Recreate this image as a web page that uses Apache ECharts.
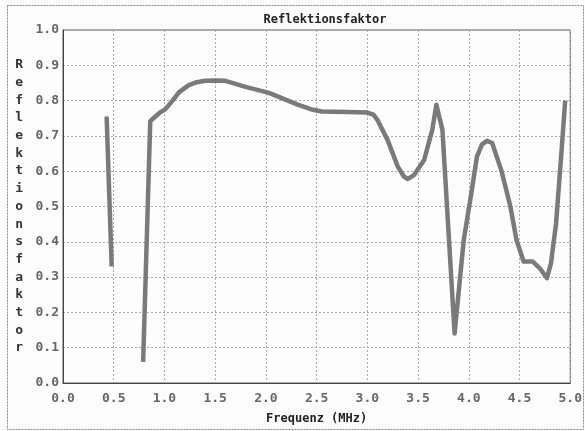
<!DOCTYPE html>
<html>
<head>
<meta charset="utf-8">
<script src="https://cdn.jsdelivr.net/npm/echarts@6/dist/echarts.min.js"></script>
<style>html,body{margin:0;padding:0;background:#fff;}#c{width:585px;height:431px;}</style>
</head>
<body>
<div id="c"></div>
<script>
var chartTitle = 'Reflektionsfaktor';
var xName = 'Frequenz (MHz)';
var yName = 'Reflektionsfaktor';
// segment 1
var freq1 = [0.43, 0.48];
var refl1 = [0.755, 0.33];
// segment 2
var freq2 = [0.79, 0.86, 0.95, 1.01, 1.08, 1.145, 1.24, 1.32, 1.40, 1.50, 1.60, 1.80, 2.03, 2.32, 2.45, 2.55, 2.81, 3.00, 3.06, 3.10, 3.20, 3.30, 3.36, 3.40, 3.46, 3.56, 3.64, 3.68, 3.74, 3.86, 3.95, 4.03, 4.08, 4.13, 4.18, 4.23, 4.32, 4.41, 4.47, 4.54, 4.63, 4.70, 4.77, 4.81, 4.86, 4.91, 4.95];
var refl2 = [0.06, 0.742, 0.765, 0.776, 0.80, 0.824, 0.844, 0.852, 0.856, 0.857, 0.856, 0.839, 0.822, 0.788, 0.775, 0.769, 0.768, 0.766, 0.760, 0.745, 0.688, 0.613, 0.585, 0.578, 0.589, 0.632, 0.717, 0.788, 0.717, 0.14, 0.405, 0.547, 0.641, 0.676, 0.686, 0.680, 0.603, 0.50, 0.405, 0.344, 0.344, 0.325, 0.297, 0.339, 0.452, 0.641, 0.80];

function zip(a, b) { return a.map(function (v, i) { return [v, b[i]]; }); }
var font = '"DejaVu Sans Mono", "Liberation Mono", monospace';
var chart = echarts.init(document.getElementById('c'));
chart.setOption({
  backgroundColor: '#fdfdfd',
  animation: false,
  title: {
    text: chartTitle, left: 320, top: 9, textAlign: 'center',
    textStyle: { fontFamily: font, fontSize: 12, fontWeight: 'bold', color: '#222' }
  },
  graphic: [{
    type: 'rect', left: 5, top: 3, silent: true,
    shape: { width: 576, height: 424 },
    style: { fill: 'none', stroke: '#888', lineWidth: 1, lineDash: [2, 1] }
  }],
  grid: { left: 63, right: 11, top: 30, bottom: 48, show: true, borderColor: '#555', borderWidth: 1, backgroundColor: 'transparent' },
  xAxis: {
    type: 'value', min: 0, max: 5, interval: 0.5,
    name: xName, nameLocation: 'middle', nameGap: 30,
    nameTextStyle: { fontFamily: font, fontSize: 12, fontWeight: 'bold', color: '#222' },
    axisLine: { lineStyle: { color: '#444' } },
    axisTick: { show: false },
    axisLabel: { fontFamily: font, fontSize: 13, fontWeight: 'bold', color: '#666', margin: 9,
      formatter: function (v) { return v.toFixed(1); } },
    splitLine: { show: true, lineStyle: { color: '#aaa', type: [2, 2], width: 1 } }
  },
  yAxis: {
    type: 'value', min: 0, max: 1, interval: 0.1,
    name: yName.split('').join('\n'), nameLocation: 'middle', nameGap: 40, nameRotate: 0,
    nameTextStyle: { fontFamily: font, fontSize: 13, fontWeight: 'bold', color: '#333', lineHeight: 17.7 },
    axisLine: { show: true, lineStyle: { color: '#444' } },
    axisTick: { show: false },
    axisLabel: { fontFamily: font, fontSize: 13, fontWeight: 'bold', color: '#666', margin: 4,
      formatter: function (v) { return v.toFixed(1); } },
    splitLine: { show: true, lineStyle: { color: '#aaa', type: [2, 2], width: 1 } }
  },
  series: [
    { type: 'line', data: zip(freq1, refl1), showSymbol: false, lineStyle: { color: '#7a7a7a', width: 4.5 } },
    { type: 'line', data: zip(freq2, refl2), showSymbol: false, lineStyle: { color: '#7a7a7a', width: 4.5, join: 'round' } }
  ]
});
</script>
</body>
</html>
